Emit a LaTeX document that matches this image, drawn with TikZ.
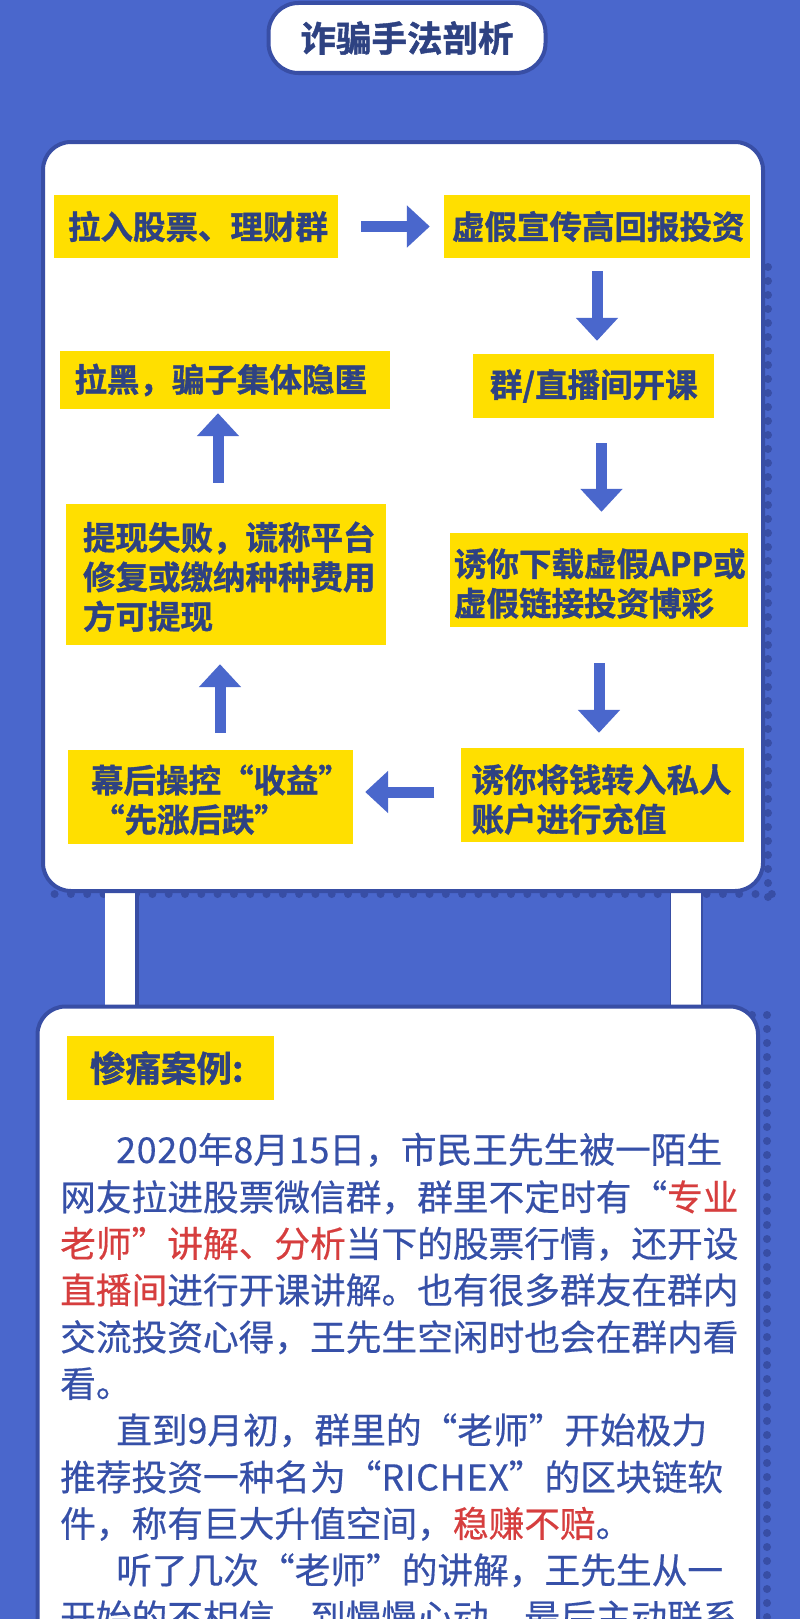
\documentclass[tikz,border=0pt]{standalone}
\usepackage{fontspec}
\usetikzlibrary{arrows.meta}
\newfontfamily\boxfont[FakeBold=1.2,BoldFont={*}]{Noto Sans CJK SC Bold}
\newfontfamily\bodyfont[FakeBold=0.5]{Noto Sans CJK SC}
\definecolor{bg}{RGB}{74,103,204}
\definecolor{edge}{RGB}{56,78,165}
\definecolor{ink}{RGB}{46,66,130}
\definecolor{bodyink}{RGB}{54,80,168}
\definecolor{hl}{RGB}{214,62,62}
\definecolor{boxy}{RGB}{255,223,0}
\tikzset{
  panel/.style={draw=edge,line width=4pt,fill=white,rounded corners=28pt},
  dotm/.style={fill=edge,draw=none},
  ybox/.style={fill=boxy,draw=none,inner ysep=0pt,align=left,text=ink,
     font=\boxfont\fontsize{32.5}{39.5}\selectfont},
  bigarrow/.style={draw=bg,line width=11pt,
     -{Triangle[width=41pt,length=23pt,fill=bg]}},
  bodyline/.style={anchor=base west,inner sep=0pt,text=bodyink,
     font=\bodyfont\fontsize{35.7}{46}\selectfont},
}
\newcommand{\hlt}[1]{{\color{hl}#1}}
\newcommand{\lat}[1]{{\addfontfeature{LetterSpace=2.2}#1}}
\newcommand{\topsp}[1]{\rule{0pt}{#1pt}}
\begin{document}
\begin{tikzpicture}[x=1pt,y=-1pt]
\useasboundingbox (0,0) rectangle (800,1619);
\clip (0,0) rectangle (800,1619);
\fill[bg] (0,0) rectangle (800,1619);
% dots
\foreach \i in {0,...,44} \fill[dotm] ({54.6+16.3*\i},894) circle (4);
\foreach \i in {0,...,45} \fill[dotm] (768,{267+14*\i}) circle (4);
\foreach \i in {0,...,43} \fill[dotm] (767,{1015+14*\i}) circle (4);
\fill[dotm] (752,1015) circle (4);
% posts
\fill[edge] (135,890) rectangle (138.5,1006);
\fill[edge] (669.5,890) rectangle (703,1006);
\fill[white] (105,890) rectangle (135,1006);
\fill[white] (671,890) rectangle (701,1006);
% panels
\draw[panel] (43,142) rectangle (763,891);
\draw[panel] (37.5,1006.5) rectangle (758,1700);
% title
\node[draw=edge,line width=4pt,fill=white,rounded corners=30pt,minimum width=277pt,minimum height=70pt,
  inner sep=0pt,text=ink,font=\boxfont\fontsize{35.5}{40}\selectfont] (title) at (407,38) {诈骗手法剖析};
% boxes
\node[ybox,inner xsep=14pt,text width=256pt,minimum height=63pt] (b1) at (196,226.5) {拉入股票、理财群};
\node[ybox,inner xsep=8pt,text width=290pt,minimum height=63pt] (b2) at (597,226.5) {虚假宣传高回报投资};
\node[ybox,inner xsep=14.5pt,text width=301pt,minimum height=58pt] (b3) at (225,380) {拉黑，骗子集体隐匿};
\node[ybox,inner xsep=17pt,text width=207pt,minimum height=64pt] (b4) at (593.5,386) {群/直播间开课};
\node[ybox,inner xsep=17pt,text width=286pt,minimum height=141pt] (b5) at (226,574.5) {\topsp{32.6}提现失败，谎称平台\\修复或缴纳种种费用\\方可提现};
\node[ybox,inner xsep=4pt,text width=290pt,minimum height=94pt] (b6) at (599,580) {\topsp{34.6}诱你下载虚假APP或\\虚假链接投资博彩};
\node[ybox,inner xsep=23pt,text width=239pt,minimum height=94pt] (b7) at (210.5,797) {\topsp{33.6}幕后操控“收益”\\\hspace*{1pt}“先涨后跌”};
\node[ybox,inner xsep=11pt,text width=261pt,minimum height=94pt] (b8) at (602,795) {\topsp{36.6}诱你将钱转入私人\\账户进行充值};
\node[ybox,inner xsep=23pt,text width=161pt,minimum height=64pt,font=\boxfont\fontsize{35.5}{40}\selectfont] (head) at (170.5,1068) {惨痛案例:};
% arrow guide points
\coordinate (c3) at (601.5,0);
\coordinate (c5) at (0,792);
\coordinate (c6) at (220,0);
\coordinate (c7) at (218,0);
% arrows
\draw[bigarrow,shorten <=23pt,shorten >=14pt] (b1.east) -- (b2.west);
\draw[bigarrow,shorten <=13pt,shorten >=13pt] (b2.south) -- (b2.south |- b4.north);
\draw[bigarrow,shorten <=25pt,shorten >=21pt] (c3 |- b4.south) -- (c3 |- b6.north);
\draw[bigarrow,shorten <=36pt,shorten >=15pt] (b6.south) -- (b6.south |- b8.north);
\draw[bigarrow,shorten <=26pt,shorten >=12pt] (b8.west |- c5) -- (b7.east |- c5);
\draw[bigarrow,shorten <=17pt,shorten >=19pt] (c6 |- b7.north) -- (c6 |- b5.south);
\draw[bigarrow,shorten <=21pt,shorten >=4pt] (c7 |- b5.north) -- (c7 |- b3.south);
% body text
\node[bodyline] (l1) at (116,1163) {\lat{2020}年\lat{8}月\lat{15}日，市民王先生被一陌生};
\node[bodyline] (l2) at (60,1210.5) {网友拉进股票微信群，群里不定时有“\hlt{专业}};
\node[bodyline] (l3) at (60,1257) {\hlt{老师”讲解、分析}当下的股票行情，还开设};
\node[bodyline] (l4) at (60,1303.5) {\hlt{直播间}进行开课讲解。也有很多群友在群内};
\node[bodyline] (l5) at (60,1350.5) {交流投资心得，王先生空闲时也会在群内看};
\node[bodyline] (l6) at (60,1397) {看。};
\node[bodyline] (l7) at (116,1443.5) {直到\lat{9}月初，群里的“老师”开始极力};
\node[bodyline] (l8) at (60,1490.5) {推荐投资一种名为“\lat{RICHEX}”的区块链软};
\node[bodyline] (l9) at (60,1537) {件，称有巨大升值空间，\hlt{稳赚不赔}。};
\node[bodyline] (l10) at (116,1583.5) {听了几次“老师”的讲解，王先生从一};
\node[bodyline] (l11) at (60,1630.5) {开始的不相信，到慢慢心动，最后主动联系};
\end{tikzpicture}
\end{document}
